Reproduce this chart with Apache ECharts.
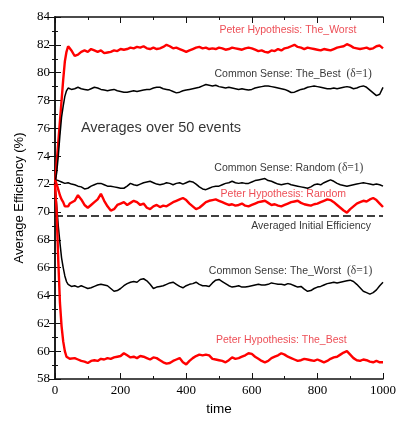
<!DOCTYPE html>
<html><head><meta charset="utf-8">
<script src="https://cdn.jsdelivr.net/npm/echarts@6/dist/echarts.min.js"></script>
<style>html,body{margin:0;padding:0;background:#fff}#c{width:417px;height:421px}</style>
</head><body><div id="c"></div>
<script>
// ---- data ----
const timeEarly = [0,5,10,15,20,25,30,35,40,45,50];
const timeLate = [];
for (let t = 60; t <= 1000; t += 10) timeLate.push(t);
const times = timeEarly.concat(timeLate);

const peterWorst = [72,73.5,75,76.5,78,79.5,80.8,81.5,81.9,81.75,81.6,
81.2,81.3,81.5,81.6,81.5,81.7,81.6,81.5,81.6,81.4,81.45,81.5,81.6,81.55,81.7,81.65,81.7,81.8,81.75,81.85,81.8,81.9,81.75,81.7,81.8,81.7,81.75,81.85,82.0,81.9,81.75,81.8,81.7,81.6,81.5,81.6,81.7,81.8,81.85,81.75,81.8,81.7,81.75,81.7,81.8,81.75,81.65,81.7,81.8,81.75,81.7,81.65,81.75,81.8,81.75,81.65,81.55,81.6,81.5,81.45,81.6,81.55,81.7,81.6,81.75,81.8,81.9,82.0,81.85,81.8,81.7,81.8,81.75,81.7,81.65,81.6,81.7,81.65,81.6,81.7,81.8,81.85,81.9,82.05,81.95,81.8,81.75,81.7,81.75,81.8,81.7,81.75,81.9,81.95,81.75];

const commonBest = [72,72.8,74,75.5,76.8,77.6,78.3,78.7,78.9,78.9,78.8,
78.85,78.95,78.85,78.8,78.75,78.85,78.95,78.9,78.8,78.75,78.7,78.75,78.8,78.7,78.65,78.6,78.6,78.65,78.7,78.65,78.7,78.75,78.8,78.8,78.9,78.95,78.95,78.85,78.8,78.75,78.65,78.55,78.6,78.7,78.75,78.8,78.85,78.9,78.95,79.05,79.15,79.1,79.05,79.1,79.0,78.95,78.9,78.95,78.9,78.85,78.8,78.85,78.8,78.75,78.8,78.9,78.95,79.0,79.05,79.05,79.0,78.95,78.9,78.85,78.8,78.7,78.58,78.6,78.7,78.8,78.85,78.95,79.0,79.05,79.0,78.95,78.9,78.85,78.85,78.9,78.85,78.9,78.95,79.0,78.95,78.85,78.9,79.0,79.05,78.95,78.75,78.55,78.35,78.45,78.95];

const commonRandom = [72.3,72.3,72.25,72.2,72.15,72.1,72.05,72.1,72.1,72.05,72.0,
71.95,71.85,71.8,71.65,71.7,71.85,71.95,72.05,72.05,71.95,71.85,71.85,71.8,71.75,71.7,71.7,71.85,72.05,71.95,71.9,72.0,72.1,72.15,72.2,72.1,72.0,71.95,72.0,72.1,72.05,71.95,72.05,72.1,72.0,72.1,72.2,72.15,72.0,71.8,71.65,71.6,71.7,71.8,71.85,71.85,71.95,72.05,72.1,72.2,72.1,72.05,72.1,72.05,72.05,72.15,72.25,72.3,72.35,72.4,72.25,72.2,72.1,72.0,71.95,72.0,72.05,71.95,71.9,71.85,71.8,71.75,71.7,71.8,71.95,72.0,71.95,72.1,72.2,72.3,72.2,72.05,71.95,71.9,71.85,71.9,71.95,72.0,72.05,72.1,72.05,72.0,71.95,72.0,71.95,71.85];

const peterRandom = [72.3,72.0,71.6,71.2,70.9,70.7,70.4,70.3,70.4,70.6,70.5,
70.8,71.2,70.9,70.5,70.3,70.5,70.7,70.9,71.3,70.8,70.4,70.1,70.2,70.5,70.6,70.7,70.5,70.65,70.8,70.7,70.5,70.6,70.3,70.2,70.4,70.5,70.35,70.45,70.4,70.55,70.7,70.8,70.9,71.0,70.85,70.6,70.4,70.2,70.3,70.5,70.7,70.8,70.85,70.9,70.8,70.7,70.6,70.5,70.55,70.45,70.5,70.6,70.45,70.4,70.5,70.6,70.7,70.75,70.8,70.65,70.5,70.55,70.45,70.4,70.5,70.6,70.7,70.75,70.8,70.65,70.55,70.5,70.45,70.55,70.6,70.7,70.8,70.9,70.85,70.7,70.5,70.3,70.1,69.95,70.2,70.4,70.6,70.7,70.8,70.75,70.9,71.0,70.85,70.6,70.35];

const commonWorst = [72,70.5,69,67.8,66.7,66,65.4,65,64.8,64.7,64.65,
64.7,64.6,64.7,64.6,64.5,64.55,64.65,64.75,64.8,64.75,64.7,64.5,64.3,64.35,64.5,64.7,64.85,64.95,65.0,64.95,65.15,65.2,65.05,64.8,64.5,64.6,64.65,64.7,64.8,64.9,64.95,64.8,64.65,64.55,64.7,64.8,64.85,64.95,64.8,64.7,64.7,64.65,64.9,65.1,65.15,65.0,64.85,64.7,64.6,64.65,64.7,64.6,64.6,64.65,64.7,64.75,64.8,64.75,64.75,64.8,64.9,64.85,64.8,64.8,64.75,64.85,64.8,64.7,64.6,64.65,64.45,64.3,64.35,64.5,64.6,64.65,64.75,64.85,64.9,64.95,64.9,64.95,65.0,65.05,65.1,65.0,64.8,64.55,64.3,64.2,64.1,64.2,64.4,64.7,64.95];

const peterBest = [72,70,66.5,63.5,61.8,60.7,60.0,59.6,59.5,59.45,59.45,
59.5,59.4,59.3,59.25,59.15,59.3,59.35,59.3,59.45,59.4,59.5,59.45,59.55,59.6,59.65,59.85,59.7,59.55,59.6,59.5,59.65,59.6,59.5,59.4,59.55,59.5,59.35,59.2,59.1,59.15,59.3,59.4,59.5,59.2,59.05,59.3,59.5,59.65,59.75,59.7,59.75,59.7,59.45,59.4,59.35,59.3,59.2,59.35,59.55,59.45,59.5,59.6,59.7,59.85,59.8,59.6,59.45,59.3,59.2,59.3,59.5,59.6,59.7,59.85,59.75,59.6,59.5,59.4,59.3,59.35,59.45,59.4,59.35,59.3,59.4,59.3,59.2,59.3,59.45,59.55,59.6,59.75,59.9,60.0,59.75,59.5,59.35,59.3,59.4,59.35,59.25,59.2,59.3,59.2,59.2];

const initialEfficiency = 69.7;

const xTicks = [0,200,400,600,800,1000];
const yTicks = [58,60,62,64,66,68,70,72,74,76,78,80,82,84];

const labelTexts = [
  'Peter Hypothesis: The_Worst',
  'Common Sense: The_Best  {d|(δ=1)}',
  'Averages over 50 events',
  'Common Sense: Random {d|(δ=1)}',
  'Peter Hypothesis: Random',
  'Averaged Initial Efficiency',
  'Common Sense: The_Worst  {d|(δ=1)}',
  'Peter Hypothesis: The_Best'
];
// annotation anchor positions (data coords)
const labelAnchors = [[710,83.08],[726,79.88],[323,76.05],[713,73.13],[696,71.29],[781,69.0],[718,65.75],[690,60.78]];
const labelColors = ['#e8202a','#000','#000','#000','#e8202a','#000','#000','#e8202a'];
const labelSizes = [10.5,10.5,14.5,10.5,10.5,10.5,10.5,10.5];

// ---- chart ----
function pairs(vals){ return vals.map((v,i)=>[times[i],v]); }
const chart = echarts.init(document.getElementById('c'), null, {renderer:'canvas'});
const axisLine = {show:true, lineStyle:{color:'#111', width:1.5}};
const common = {
  axisLine: axisLine,
  axisTick: {show:true, inside:true, length:6, lineStyle:{color:'#111', width:1}},
  minorTick: {show:true, splitNumber:2, length:3, lineStyle:{color:'#111', width:1}},
  splitLine: {show:false}
};
const serif = '"Liberation Serif", "DejaVu Serif", serif';
const sans = '"Liberation Sans", Arial, sans-serif';

chart.setOption({
  animation:false,
  backgroundColor:'#fff',
  grid:{left:55, right:34, top:17, bottom:38, containLabel:false},
  xAxis:[
    Object.assign({type:'value', min:xTicks[0], max:xTicks[xTicks.length-1], interval:200, position:'bottom',
      name:'time', nameLocation:'middle', nameGap:23,
      nameTextStyle:{fontFamily:sans, fontSize:13.5, color:'#000'},
      axisLabel:{fontFamily:serif, fontSize:13, color:'#000', margin:5, formatter:(v)=>String(v)}}, common),
    Object.assign({type:'value', min:xTicks[0], max:xTicks[xTicks.length-1], interval:200, position:'top',
      axisLabel:{show:false}}, common)
  ],
  yAxis:[
    Object.assign({type:'value', min:yTicks[0], max:yTicks[yTicks.length-1], interval:2, position:'left',
      name:'Average Efficiency (%)', nameLocation:'middle', nameGap:21, nameRotate:90,
      nameTextStyle:{fontFamily:sans, fontSize:13, color:'#000'},
      axisLabel:{fontFamily:serif, fontSize:13, color:'#000', margin:5}}, common),
    Object.assign({type:'value', min:yTicks[0], max:yTicks[yTicks.length-1], interval:2, position:'right',
      axisLabel:{show:false}}, common)
  ],
  series:[
    {type:'line', data:pairs(peterWorst), showSymbol:false, lineStyle:{color:'#ff0000', width:2.4}, z:3},
    {type:'line', data:pairs(commonBest), showSymbol:false, lineStyle:{color:'#000', width:1.5}, z:3},
    {type:'line', data:pairs(commonRandom), showSymbol:false, lineStyle:{color:'#000', width:1.5}, z:3},
    {type:'line', data:pairs(peterRandom), showSymbol:false, lineStyle:{color:'#ff0000', width:2.4}, z:3},
    {type:'line', data:pairs(commonWorst), showSymbol:false, lineStyle:{color:'#000', width:1.5}, z:3},
    {type:'line', data:pairs(peterBest), showSymbol:false, lineStyle:{color:'#ff0000', width:2.4}, z:3},
    {type:'line', data:[[xTicks[0],initialEfficiency],[xTicks[xTicks.length-1],initialEfficiency]], showSymbol:false,
      lineStyle:{color:'#000', width:1.5, type:[8,4]}, z:2},
    {type:'scatter', symbolSize:0, silent:true, z:5,
      data:labelAnchors.map((p,i)=>({value:p,
        label:{show:true, position:'inside', formatter:labelTexts[i], color:labelColors[i],
          fontFamily:sans, fontSize:labelSizes[i],
          rich:{d:{fontFamily:serif, fontSize:11.5, color:labelColors[i]}}}}))}
  ]
});
</script></body></html>
